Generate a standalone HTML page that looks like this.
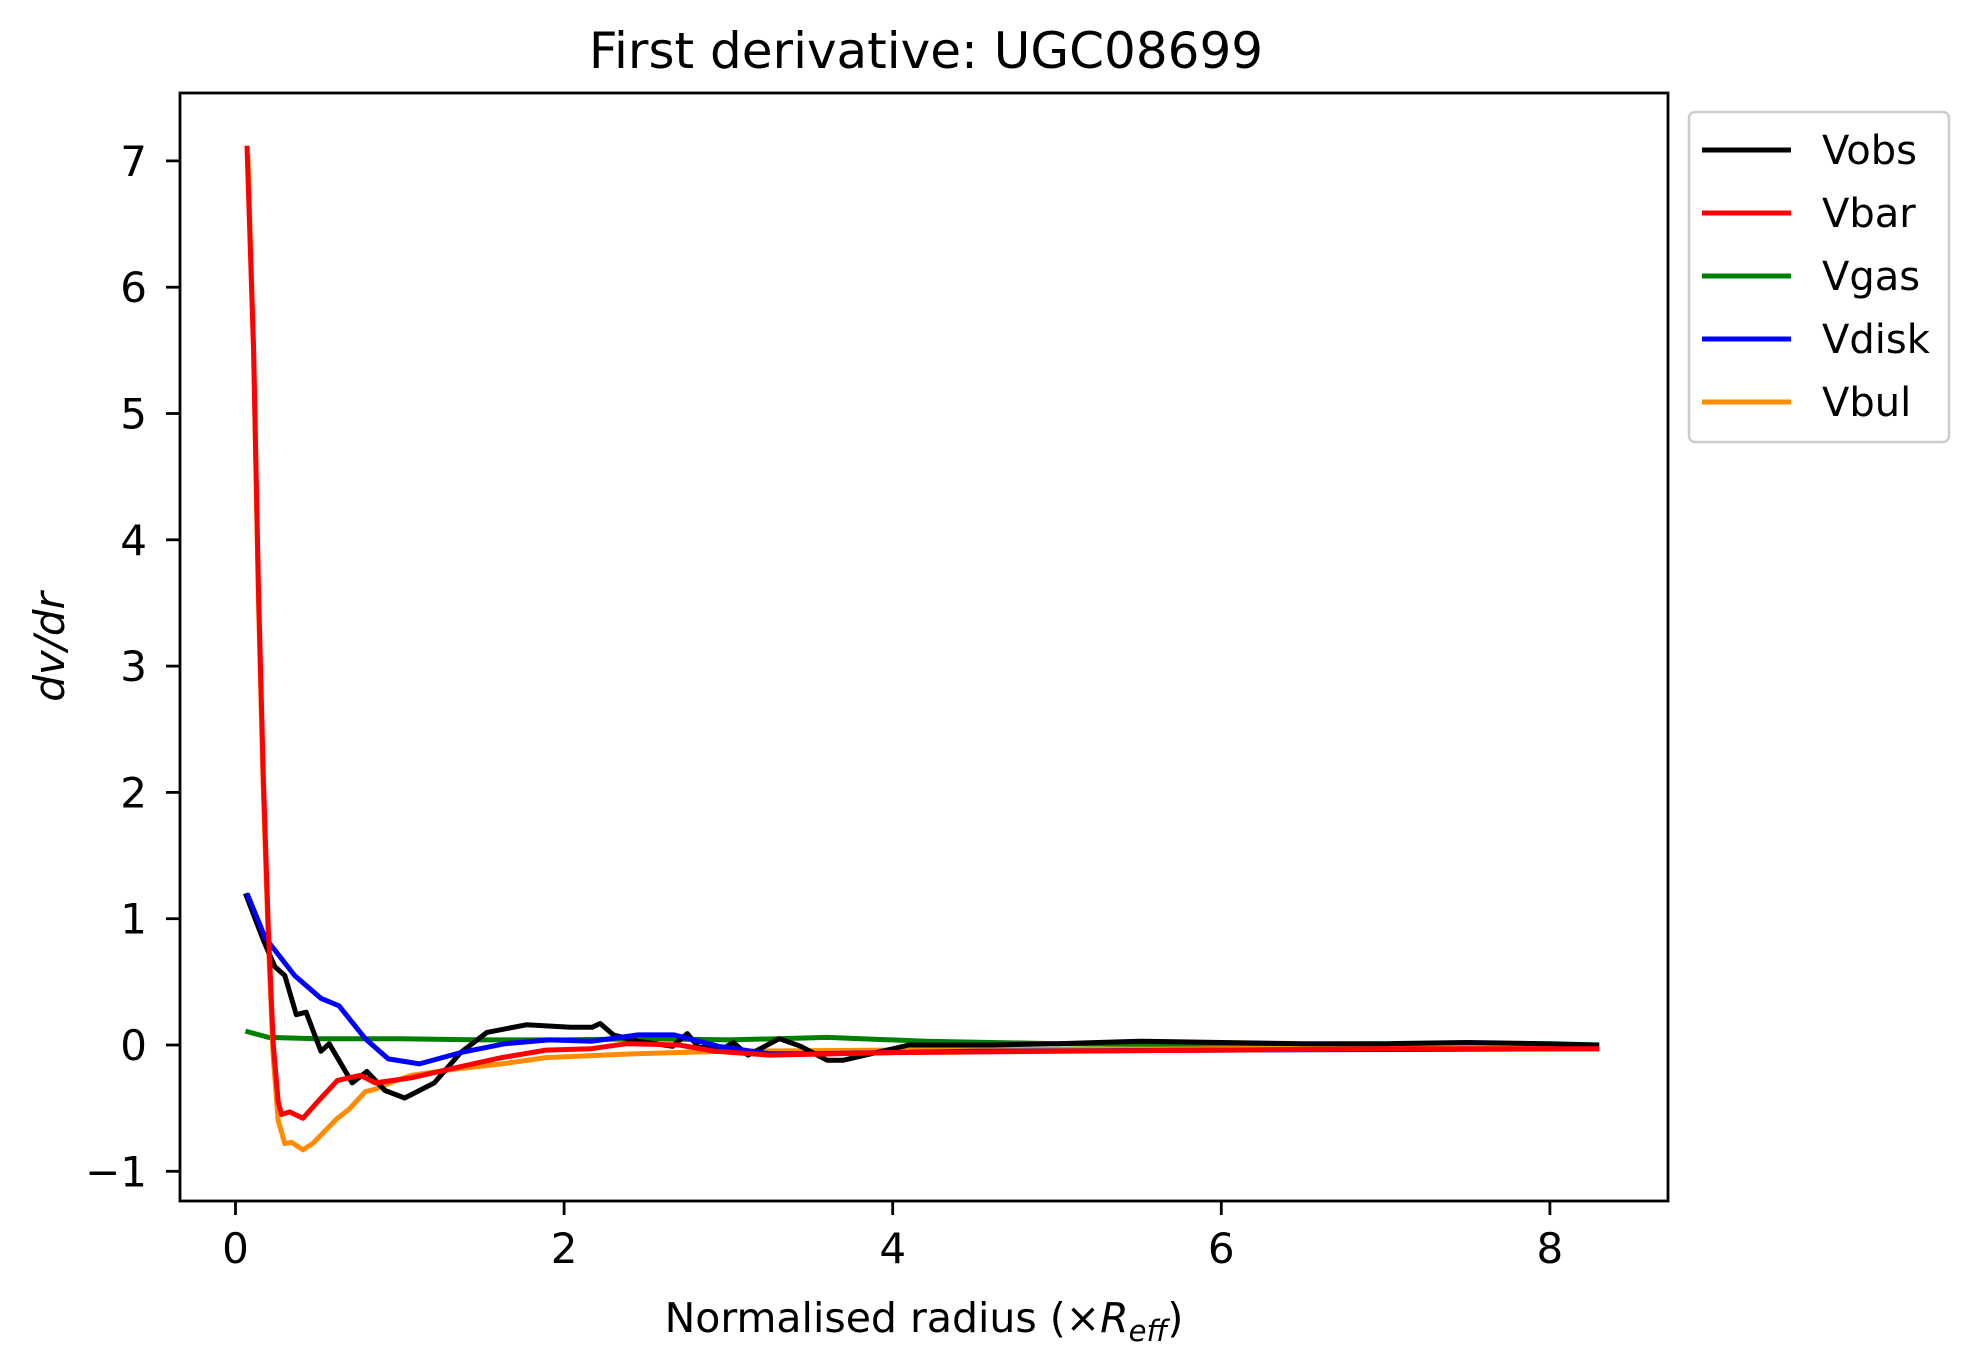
<!DOCTYPE html>
<html><head><meta charset="utf-8"><style>
html,body{margin:0;padding:0;background:#fff;}
svg{display:block;font-family:"DejaVu Sans","Liberation Sans",sans-serif;}
</style></head><body>
<svg id="chart" width="1980" height="1362" viewBox="0 0 1980 1362">
<rect x="0" y="0" width="1980" height="1362" fill="#fff"/>
<text x="926" y="68" font-size="50" text-anchor="middle">First derivative: UGC08699</text>
<g id="plot"></g>
<rect x="180" y="93" width="1488" height="1108" fill="none" stroke="#000" stroke-width="2.8"/>
<g id="xticks"></g><g id="yticks"></g>
<text x="924" y="1332" font-size="41" text-anchor="middle">Normalised radius (×<tspan font-style="italic">R</tspan><tspan font-style="italic" font-size="29" dy="9">eff</tspan><tspan dy="-9">)</tspan></text>
<text transform="translate(64,647) rotate(-90)" font-size="42" font-style="italic" text-anchor="middle">dv/dr</text>
<g>
<rect x="1689" y="112" width="260" height="330" rx="6" fill="#fff" stroke="#ccc" stroke-width="2.5"/>
<g id="legend"></g>
</g>
</svg>
<script>
const xTicks=[0,2,4,6,8];
const yTicks=[-1,0,1,2,3,4,5,6,7];
const seriesNames=["Vobs","Vbar","Vgas","Vdisk","Vbul"];
const seriesColors=["#000000","#ff0000","#008000","#0000ff","#ff8c00"];
const vobsX=[0.06,0.17,0.24,0.30,0.37,0.43,0.52,0.57,0.71,0.80,0.91,1.03,1.21,1.37,1.53,1.77,2.04,2.17,2.22,2.30,2.45,2.66,2.75,2.82,2.98,3.03,3.12,3.31,3.44,3.60,3.70,3.90,4.10,4.6,5.0,5.5,6.0,6.5,7.0,7.5,8.0,8.3];
const vobsY=[1.2,0.83,0.62,0.55,0.24,0.26,-0.05,0.01,-0.30,-0.21,-0.36,-0.42,-0.30,-0.06,0.10,0.16,0.14,0.14,0.17,0.08,0.03,-0.01,0.09,-0.02,-0.02,0.02,-0.08,0.05,-0.01,-0.12,-0.12,-0.06,0.0,0.0,0.01,0.03,0.02,0.01,0.01,0.02,0.01,0.0];
const vbarX=[0.07,0.11,0.14,0.17,0.20,0.23,0.26,0.28,0.33,0.41,0.50,0.62,0.76,0.85,1.07,1.34,1.62,1.89,2.16,2.38,2.70,2.92,3.25,4.0,5.0,6.0,7.0,8.3];
const vbarY=[7.12,5.5,3.6,2.1,0.9,0.0,-0.45,-0.55,-0.53,-0.58,-0.45,-0.28,-0.24,-0.30,-0.26,-0.18,-0.10,-0.04,-0.03,0.01,0.0,-0.05,-0.08,-0.06,-0.05,-0.04,-0.03,-0.03];
const vgasX=[0.06,0.2,0.5,1.0,1.5,2.0,2.5,3.0,3.3,3.6,4.2,5.0,6.0,7.0,8.3];
const vgasY=[0.11,0.06,0.05,0.05,0.04,0.04,0.05,0.04,0.05,0.06,0.03,0.01,0.0,0.0,0.0];
const vdiskX=[0.07,0.18,0.36,0.52,0.63,0.79,0.93,1.12,1.37,1.64,1.91,2.17,2.45,2.67,2.94,3.25,3.5,4.5,6.0,8.3];
const vdiskY=[1.2,0.85,0.55,0.37,0.31,0.05,-0.11,-0.15,-0.06,0.01,0.04,0.03,0.08,0.08,-0.01,-0.07,-0.07,-0.05,-0.04,-0.03];
const vbulX=[0.075,0.11,0.14,0.17,0.20,0.23,0.26,0.30,0.34,0.41,0.47,0.62,0.69,0.79,0.85,0.96,1.07,1.34,1.62,1.89,2.43,2.98,4.0,6.0,8.3];
const vbulY=[7.05,5.5,3.5,2.0,0.8,-0.1,-0.6,-0.78,-0.77,-0.83,-0.78,-0.58,-0.51,-0.37,-0.35,-0.29,-0.24,-0.19,-0.15,-0.10,-0.07,-0.05,-0.04,-0.03,-0.01];
const allX=[vobsX,vbarX,vgasX,vdiskX,vbulX];
const allY=[vobsY,vbarY,vgasY,vdiskY,vbulY];

const NS="http://www.w3.org/2000/svg";
function sx(v){return 235.5+v*164.3;}
function sy(v){return 1045-v*126.3;}
function mk(tag,attrs,parent){const e=document.createElementNS(NS,tag);for(const k in attrs)e.setAttribute(k,attrs[k]);parent.appendChild(e);return e;}
const plot=document.getElementById('plot');
[2,4,0,3,1].forEach(function(i){
  let d='';
  allX[i].forEach(function(x,j){d+=(j?'L':'M')+sx(x).toFixed(1)+','+sy(allY[i][j]).toFixed(1);});
  const p=mk('path',{d:d,fill:'none',stroke:seriesColors[i],'stroke-width':5,'stroke-linejoin':'round','stroke-linecap':'butt'},plot);
  
  
});
const xg=document.getElementById('xticks');
xTicks.forEach(function(t){
  const l=mk('line',{x1:sx(t),x2:sx(t),y1:1201,y2:1215,stroke:'#000','stroke-width':2.8},xg);
  
  
  const tx=mk('text',{x:sx(t),y:1263,'font-size':42,'text-anchor':'middle'},xg);
  tx.textContent=String(t);
  
  
});
const yg=document.getElementById('yticks');
yTicks.forEach(function(t){
  const l=mk('line',{x1:166,x2:180,y1:sy(t),y2:sy(t),stroke:'#000','stroke-width':2.8},yg);
  
  
  const tx=mk('text',{x:147,y:sy(t)+15,'font-size':42,'text-anchor':'end'},yg);
  tx.textContent=t<0?'\u2212'+Math.abs(t):String(t);
  
  
});
const lg=document.getElementById('legend');
seriesNames.forEach(function(n,i){
  const y=150+i*63;
  const l=mk('line',{x1:1702,x2:1791,y1:y,y2:y,stroke:seriesColors[i],'stroke-width':5},lg);
  
  
  const tx=mk('text',{x:1822,y:y+14,'font-size':40},lg);
  tx.textContent=n;
  
  
});
</script>
</body></html>
